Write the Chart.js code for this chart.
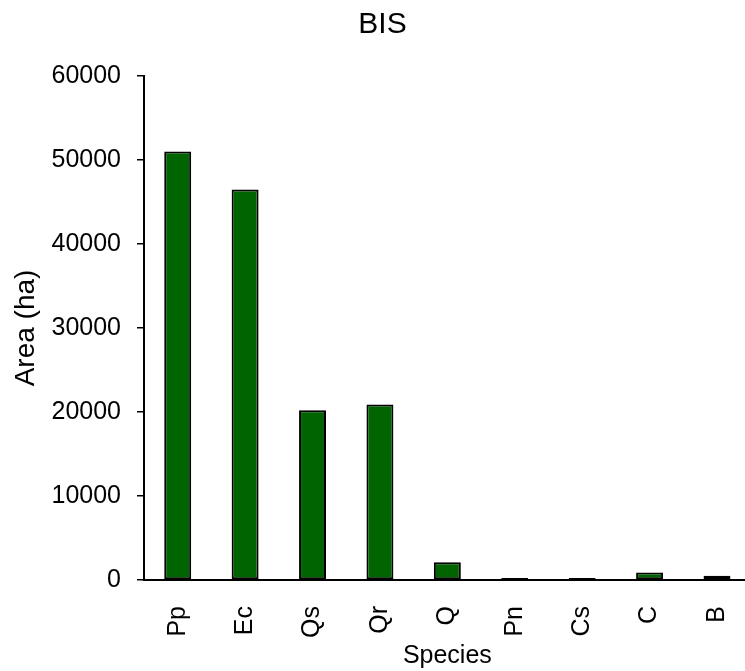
<!DOCTYPE html>
<html>
<head>
<meta charset="utf-8">
<script src="https://cdn.jsdelivr.net/npm/chart.js@4/dist/chart.umd.min.js"></script>
<style>
  html, body { margin: 0; padding: 0; background: #fff; overflow: hidden; }
  #wrap { position: relative; width: 765px; height: 671px; }
</style>
</head>
<body>
<div id="wrap"><canvas id="c"></canvas></div>
<script>
// Planted area per species (ha)
const species = ['Pp', 'Ec', 'Qs', 'Qr', 'Q', 'Pn', 'Cs', 'C', 'B'];
const areaHa = [51000, 46500, 20200, 20900, 2100, 250, 250, 900, 500];
const yTicks = [0, 10000, 20000, 30000, 40000, 50000, 60000];

const FONT = 'Liberation Sans, Arial, sans-serif';

new Chart(document.getElementById('c'), {
  type: 'bar',
  data: {
    labels: species,
    datasets: [{
      data: areaHa,
      backgroundColor: '#006400',
      borderColor: '#000000',
      borderWidth: 2,
      borderSkipped: false,
      barPercentage: 0.4,
      categoryPercentage: 1.0
    }]
  },
  options: {
    responsive: true,
    maintainAspectRatio: false,
    animation: false,
    layout: { padding: { left: 0, right: 0, top: 0, bottom: 0 } },
    plugins: {
      legend: { display: false },
      tooltip: { enabled: false },
      title: {
        display: true,
        text: 'BIS',
        color: '#000',
        font: { family: FONT, size: 30, weight: 'normal' },
        padding: { top: 7, bottom: 33 }
      }
    },
    scales: {
      x: {
        offset: true,
        grid: { display: false },
        border: { display: true, color: '#000', width: 2 },
        ticks: {
          color: '#000',
          font: { family: FONT, size: 25 },
          maxRotation: 90,
          minRotation: 90,
          padding: 18
        },
        title: {
          display: true,
          text: 'Species',
          color: '#000',
          font: { family: FONT, size: 25 },
          padding: { top: 0, bottom: 0 }
        },
        afterFit(scale) { scale.height = 91; }
      },
      y: {
        min: 0,
        max: 60000,
        afterBuildTicks(scale) { scale.ticks = yTicks.map(v => ({ value: v })); },
        grid: {
          display: true,
          drawOnChartArea: false,
          drawTicks: true,
          tickLength: 7,
          color: '#000',
          lineWidth: 1.5
        },
        border: { display: true, color: '#000', width: 2 },
        ticks: {
          color: '#000',
          font: { family: FONT, size: 25 },
          padding: 16,
          callback: (v) => String(v)
        },
        title: {
          display: true,
          text: 'Area (ha)',
          color: '#000',
          font: { family: FONT, size: 28 },
          padding: { top: 9, bottom: 0 }
        },
        afterFit(scale) { scale.width = 144; }
      }
    }
  }
});
</script>
</body>
</html>
